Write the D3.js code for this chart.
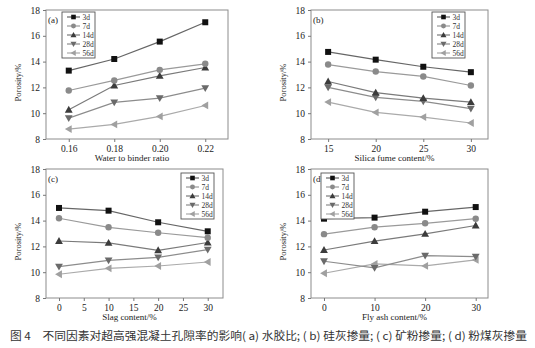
<!DOCTYPE html>
<html>
<head>
<meta charset="utf-8">
<script src="https://cdn.jsdelivr.net/npm/d3@7"></script>
<style>
  body { margin: 0; background: #fff; }
  svg { display: block; }
</style>
</head>
<body>
<svg id="chart" width="535" height="348"></svg>
<script>
// Curing ages shown in every panel
const ages = ["3d", "7d", "14d", "28d", "56d"];

// (a) water to binder ratio
const wbRatio = [0.16, 0.18, 0.20, 0.22];
const porosityA = [
  [13.3, 14.2, 15.55, 17.05],
  [11.76, 12.54, 13.36, 13.83],
  [10.27, 12.15, 12.9, 13.54],
  [9.62, 10.84, 11.17, 11.94],
  [8.77, 9.13, 9.75, 10.6]
];

// (b) silica fume content
const silicaFume = [15, 20, 25, 30];
const porosityB = [
  [14.75, 14.15, 13.6, 13.18],
  [13.77, 13.23, 12.85, 12.15],
  [12.46, 11.6, 11.17, 10.86],
  [12.0, 11.22, 10.91, 10.35],
  [10.86, 10.06, 9.7, 9.24]
];

// (c) slag content
const slag = [0, 10, 20, 30];
const porosityC = [
  [14.98, 14.77, 13.87, 13.17],
  [14.18, 13.48, 13.06, 12.68],
  [12.42, 12.27, 11.7, 12.3],
  [10.43, 10.92, 11.15, 11.75],
  [9.84, 10.3, 10.48, 10.79]
];

// (d) fly ash content
const flyAsh = [0, 10, 20, 30];
const porosityD = [
  [14.15, 14.23, 14.69, 15.05],
  [12.95, 13.49, 13.79, 14.15],
  [11.72, 12.41, 12.97, 13.62],
  [10.85, 10.33, 11.28, 11.2],
  [9.92, 10.64, 10.49, 10.95]
];

const yTicks = [8, 10, 12, 14, 16, 18];
const caption = "图 4　不同因素对超高强混凝土孔隙率的影响( a) 水胶比; ( b) 硅灰掺量; ( c) 矿粉掺量; ( d) 粉煤灰掺量";

// marker styling per curing age
const markerFill = ["#111", "#8a8a8a", "#3c3c3c", "#6a6a6a", "#a0a0a0"];
const lineColor = ["#666", "#9a9a9a", "#7a7a7a", "#8c8c8c", "#aaaaaa"];
const symbolTypes = ["square", "circle", "up", "down", "left"];

function markerPath(type, s) {
  if (type === "square") return `M${-s},${-s}h${2*s}v${2*s}h${-2*s}Z`;
  if (type === "circle") return d3.symbol(d3.symbolCircle, Math.PI * s * s * 1.15)();
  const t = s * 1.3;
  if (type === "up") return `M0,${-t}L${t},${t*0.75}L${-t},${t*0.75}Z`;
  if (type === "down") return `M0,${t}L${t},${-t*0.75}L${-t},${-t*0.75}Z`;
  return `M${-t},0L${t*0.75},${-t}L${t*0.75},${t}Z`;
}

const svg = d3.select("#chart");
const serif = "'Liberation Serif', 'DejaVu Serif', serif";

const panels = [
  { tag: "(a)", xs: wbRatio, data: porosityA, xDomain: [0.15, 0.23], xTicks: wbRatio, fmt: d3.format(".2f"),
    box: { l: 46, r: 228, t: 10, b: 139 }, title: "Water to binder ratio", legend: { x: 62, y: 12 } },
  { tag: "(b)", xs: silicaFume, data: porosityB, xDomain: [13.2, 31.8], xTicks: [15, 20, 25, 30], fmt: d3.format("d"),
    box: { l: 311, r: 488, t: 10, b: 139 }, title: "Silica fume content/%", legend: { x: 432, y: 12 } },
  { tag: "(c)", xs: slag, data: porosityC, xDomain: [-2.62, 33.08], xTicks: [0, 5, 10, 15, 20, 25, 30], fmt: d3.format("d"),
    box: { l: 46, r: 223, t: 169, b: 298 }, title: "Slag content/%", legend: { x: 181, y: 173 } },
  { tag: "(d)", xs: flyAsh, data: porosityD, xDomain: [-2.57, 32.43], xTicks: [0, 10, 20, 30], fmt: d3.format("d"),
    box: { l: 311, r: 488, t: 169, b: 298 }, title: "Fly ash content/%", legend: { x: 321, y: 173 } }
];

panels.forEach(p => {
  const { l, r, t, b } = p.box;
  const x = d3.scaleLinear().domain(p.xDomain).range([l, r]);
  const y = d3.scaleLinear().domain([8, 18]).range([b, t]);
  const g = svg.append("g");

  // frame
  g.append("rect").attr("x", l).attr("y", t).attr("width", r - l).attr("height", b - t)
    .attr("fill", "none").attr("stroke", "#8c8c8c").attr("stroke-width", 1);

  // axes
  const xAxis = g.append("g").attr("transform", `translate(0,${b})`)
    .call(d3.axisBottom(x).tickValues(p.xTicks).tickFormat(p.fmt).tickSize(3).tickPadding(3));
  const yAxis = g.append("g").attr("transform", `translate(${l},0)`)
    .call(d3.axisLeft(y).tickValues(yTicks).tickSize(3).tickPadding(3));
  [xAxis, yAxis].forEach(a => {
    a.attr("font-family", serif).attr("font-size", 9.5);
    a.select(".domain").remove();
    a.selectAll("line").attr("stroke", "#777");
    a.selectAll("text").attr("fill", "#222");
  });

  // axis titles
  g.append("text").attr("x", (l + r) / 2 - 5).attr("y", b + 22).attr("text-anchor", "middle")
    .attr("fill", "#222").attr("font-family", serif).attr("font-size", 9).text(p.title);
  g.append("text").attr("transform", `translate(${l - 25},${(t + b) / 2 + 8}) rotate(-90)`)
    .attr("text-anchor", "middle").attr("fill", "#222").attr("font-family", serif).attr("font-size", 8.5)
    .text("Porosity/%");

  // panel tag
  g.append("text").attr("x", l + 2).attr("y", t + 13).attr("fill", "#222")
    .attr("font-family", serif).attr("font-size", 9).text(p.tag);

  // series, drawn so that 3d sits on top
  const line = d3.line().x((d, i) => x(p.xs[i])).y(d => y(d));
  for (let k = ages.length - 1; k >= 0; k--) {
    const vals = p.data[k];
    g.append("path").datum(vals).attr("d", line).attr("fill", "none")
      .attr("stroke", lineColor[k]).attr("stroke-width", 1.2);
    g.selectAll(null).data(vals).enter().append("path")
      .attr("transform", (d, i) => `translate(${x(p.xs[i])},${y(d)})`)
      .attr("d", markerPath(symbolTypes[k], 3))
      .attr("fill", markerFill[k]);
  }

  // legend
  const lg = g.append("g").attr("transform", `translate(${p.legend.x},${p.legend.y})`);
  lg.append("rect").attr("width", 33).attr("height", 46).attr("fill", "#fff")
    .attr("stroke", "#555").attr("stroke-width", 0.9);
  ages.forEach((a, k) => {
    const yy = 5 + k * 9;
    lg.append("line").attr("x1", 5).attr("x2", 18).attr("y1", yy).attr("y2", yy)
      .attr("stroke", lineColor[k]).attr("stroke-width", 1.2);
    lg.append("path").attr("transform", `translate(11.5,${yy})`).attr("d", markerPath(symbolTypes[k], 2.3))
      .attr("fill", markerFill[k]);
    lg.append("text").attr("x", 20.5).attr("y", yy + 2.8).attr("fill", "#333")
      .attr("font-family", serif).attr("font-size", 7.5).text(a);
  });
});

// figure caption
svg.append("text").attr("x", 10).attr("y", 340).attr("fill", "#333")
  .attr("font-family", "'Noto Sans CJK SC', sans-serif").attr("font-size", 11)
  .attr("textLength", 517).attr("lengthAdjust", "spacingAndGlyphs")
  .text(caption);
</script>
</body>
</html>
